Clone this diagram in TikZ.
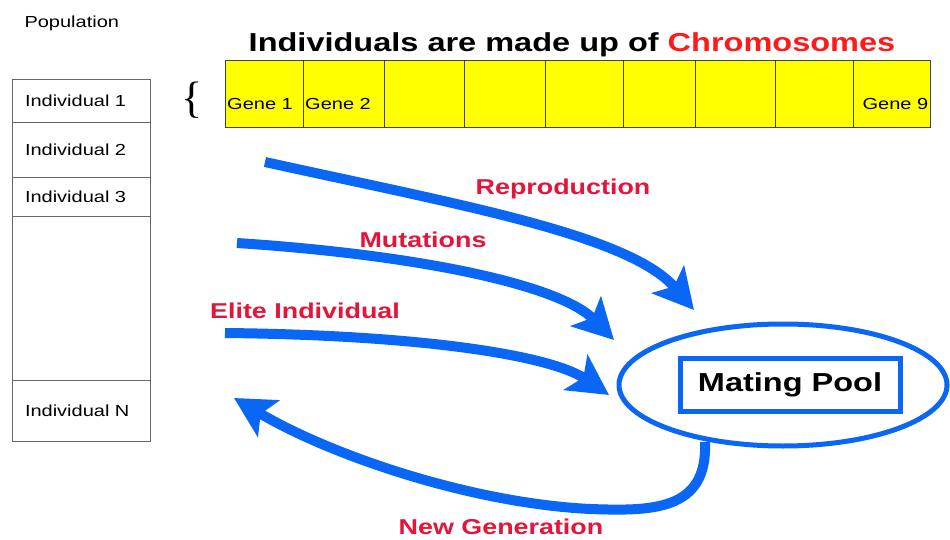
\documentclass[tikz,border=0pt]{standalone}
\usepackage{fontspec}
\setmainfont[FakeStretch=1.25]{Liberation Sans}
\newfontfamily\bracefont{Liberation Serif}
\usetikzlibrary{arrows.meta,shapes.geometric}

\definecolor{poolblue}{RGB}{10,102,245}
\definecolor{labelred}{RGB}{228,20,58}
\definecolor{chromred}{RGB}{255,25,25}
\definecolor{geneyellow}{RGB}{255,255,0}

\tikzset{
  indrow/.style={draw=black!60, minimum width=138pt, inner sep=0pt, text width=112pt, align=left, font=\fontsize{16}{18}\selectfont},
  genebox/.style={draw=black!75, fill=geneyellow, minimum height=67pt, inner sep=0pt, anchor=north west},
  genelabel/.style={font=\fontsize{16}{18}\selectfont, inner sep=2pt},
  flow/.style={poolblue, line width=10pt, -{Stealth[length=40pt,width=42pt,inset=9pt]}},
  flowlabel/.style={labelred, font=\bfseries\fontsize{21.5}{24}\selectfont},
}

\begin{document}
\begin{tikzpicture}[x=1pt,y=-1pt]
  \useasboundingbox[fill=white] (0,0) rectangle (950,540);

  % population column
  \node[anchor=west, font=\fontsize{16}{18}\selectfont] (poptitle) at (21,23) {Population};
  \node[indrow, minimum height=43pt] (ind1) at (81,100.5) {Individual 1};
  \node[indrow, minimum height=55pt] (ind2) at (81,149.5) {Individual 2};
  \node[indrow, minimum height=39pt] (ind3) at (81,196.5) {Individual 3};
  \node[indrow, minimum height=164pt] (indgap) at (81,298) {};
  \node[indrow, minimum height=61pt] (indN) at (81,410.5) {Individual N};

  % chromosome
  \node[font=\bfseries\fontsize{26}{30}\selectfont] (title) at (572,45)
    {Individuals are made up of \textcolor{chromred}{Chromosomes}};
  \node[font=\bracefont\fontsize{44}{44}\selectfont] (brace) at (192,100) {\{};
  \foreach \gx/\gw [count=\i] in {225/78,303/81,384/80,464/81,545/78,623/72,695/80,775/78,853/77}
    \node[genebox, minimum width=\gw pt] (gene\i) at (\gx,60) {};
  \node[genelabel, anchor=west] (g1) at ([yshift=-10pt]gene1.west) {Gene 1};
  \node[genelabel, anchor=west] (g2) at ([yshift=-10pt]gene2.west) {Gene 2};
  \node[genelabel, anchor=east] (g9) at ([yshift=-10pt]gene9.east) {Gene 9};

  % mating pool
  \node[draw=poolblue, line width=5pt, ellipse, minimum width=328pt, minimum height=122pt] (pool) at (783,385) {};
  \node[draw=poolblue, line width=5pt, minimum width=220pt, minimum height=53pt,
        font=\bfseries\fontsize{26}{30}\selectfont] (mating) at (790,384.5) {Mating Pool};

  \coordinate (rep-start) at (265,162);
  \coordinate (rep-end) at (694,310);
  \coordinate (mut-start) at (237,243);
  \coordinate (mut-end) at (614,340);
  \coordinate (elite-start) at (225,333);
  \coordinate (elite-end) at (609,395);
  \coordinate (gen-start) at (705,442);
  \coordinate (gen-end) at (234,398);

  \draw[flow] (rep-start) .. controls (460,205) and (630,235) .. (rep-end);
  \draw[flow] (mut-start) .. controls (420,255) and (560,285) .. (mut-end);
  \draw[flow] (elite-start) .. controls (420,335) and (550,355) .. (elite-end);
  \draw[flow] (gen-start) .. controls (708,512) and (650,511) .. (590,509)
    .. controls (470,503) and (330,455) .. (gen-end);

  \node[flowlabel] (reprolabel) at (563,189) {Reproduction};
  \node[flowlabel] (mutlabel) at (423,240) {Mutations};
  \node[flowlabel] (elitelabel) at (305,311) {Elite Individual};
  \node[flowlabel] (genlabel) at (501,527) {New Generation};
\end{tikzpicture}
\end{document}
